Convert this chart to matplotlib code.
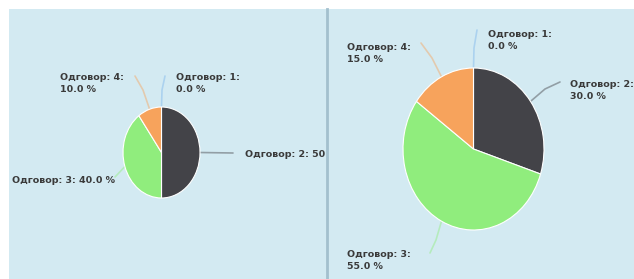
import numpy as np
import matplotlib
matplotlib.use("Agg")
import matplotlib.pyplot as plt
from matplotlib.patches import Rectangle

# ---- data ----
categories = ["Одговор: 1", "Одговор: 2", "Одговор: 3", "Одговор: 4"]
left_values = [0.0, 50.0, 40.0, 10.0]
right_values = [0.0, 30.0, 55.0, 15.0]
colors = ["#7cb5ec", "#434348", "#90ed7d", "#f7a35c"]

W, H = 634, 279
BG = "#d3eaf2"
TXT = "#3a3a3a"

fig = plt.figure(figsize=(W / 100, H / 100), dpi=100)
fig.patch.set_facecolor("white")

base = fig.add_axes([0, 0, 1, 1])
base.set_xlim(0, W)
base.set_ylim(H, 0)
base.axis("off")
base.add_patch(Rectangle((9, 9), W - 9, H - 9, facecolor=BG, edgecolor="none"))
base.plot([327, 327], [9, H], color="#a3c0ce", lw=2)


def panel_axes(x0, x1, y0, y1):
    ax = fig.add_axes([x0 / W, 1 - y1 / H, (x1 - x0) / W, (y1 - y0) / H])
    ax.set_xlim(x0, x1)
    ax.set_ylim(y1, y0)
    ax.axis("off")
    ax.patch.set_alpha(0)
    return ax


def draw_pie(cx, cy, rx, ry, values, panel, label_specs):
    pax = fig.add_axes([(cx - rx) / W, 1 - (cy + ry) / H, 2 * rx / W, 2 * ry / H])
    wedges, _ = pax.pie(values, colors=colors, startangle=90, counterclock=False,
                        radius=1, wedgeprops=dict(edgecolor="white", linewidth=0.8))
    pax.set_xlim(-1, 1)
    pax.set_ylim(-1, 1)
    pax.set_aspect("auto")
    pax.axis("off")
    for w, cat, v, spec in zip(wedges, categories, values, label_specs):
        mid = np.deg2rad((w.theta1 + w.theta2) / 2)
        sx, sy = cx + rx * np.cos(mid), cy - ry * np.sin(mid)
        ex, ey = spec["end"]
        mx, my = spec.get("mid", ((sx + ex) / 2, (sy + ey) / 2))
        panel.plot([sx, mx, ex], [sy, my, ey], color=w.get_facecolor(), alpha=0.45,
                   lw=1.2, solid_capstyle="round")
        sep = "\n" if spec["two"] else " "
        tx, ty = spec["pos"]
        panel.text(tx, ty, f"{cat}:{sep}{v:.1f} %", ha="left", va="top",
                   fontsize=6.8, color=TXT, fontweight="semibold", linespacing=1.4,
                   clip_on=True)


left_panel = panel_axes(9, 326, 9, H)
right_panel = panel_axes(328, W, 9, H)

left_specs = [
    dict(end=(165, 76), mid=(162, 90), pos=(176, 73), two=True),
    dict(end=(233, 153), pos=(245, 150), two=False),
    dict(end=(115, 177), pos=(12, 176), two=False),
    dict(end=(135, 76), mid=(143, 90), pos=(60, 73), two=True),
]
right_specs = [
    dict(end=(477, 30), mid=(474, 48), pos=(488, 30), two=True),
    dict(end=(560, 82), mid=(545, 89), pos=(570, 80), two=True),
    dict(end=(430, 253), mid=(436, 240), pos=(347, 250), two=True),
    dict(end=(421, 43), mid=(432, 58), pos=(347, 43), two=True),
]

draw_pie(161.5, 152.5, 38.5, 45.5, left_values, left_panel, left_specs)
draw_pie(473.5, 149, 70.5, 81, right_values, right_panel, right_specs)

fig.savefig("out.png", dpi=100, facecolor=fig.get_facecolor())
